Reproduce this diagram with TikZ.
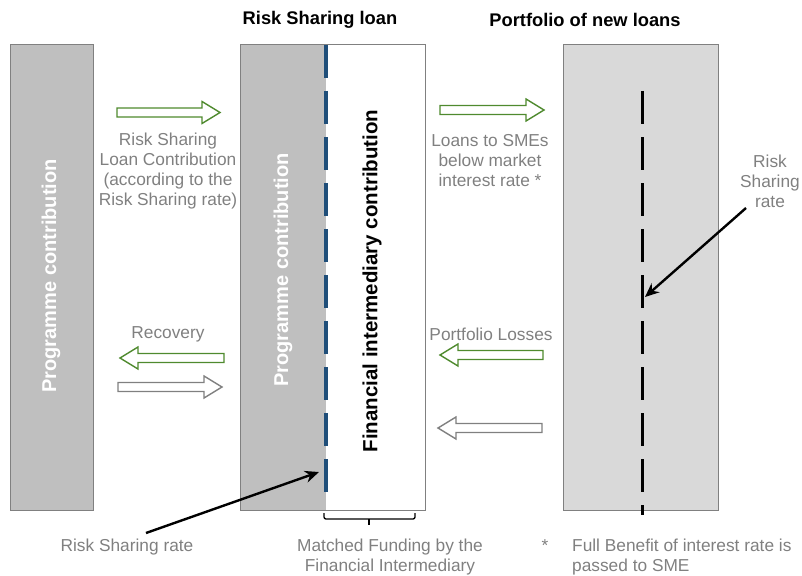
\documentclass[tikz,border=0pt]{standalone}
\usepackage{fontspec}
\setmainfont{Liberation Sans}
\usetikzlibrary{arrows.meta}
\definecolor{boxgray}{HTML}{BFBFBF}
\definecolor{lightbox}{HTML}{D9D9D9}
\definecolor{edgegray}{HTML}{808080}
\definecolor{txtgray}{HTML}{808080}
\definecolor{arrgreen}{HTML}{4F8A2E}
\definecolor{dashblue}{HTML}{1F4E79}
\newcommand\blockright[4]{% x1 x2 y color
  \draw[#4,line width=1.4pt,fill=white,line join=miter]
    (#1,#3-4.5) -- (#2-18,#3-4.5) -- (#2-18,#3-11) -- (#2,#3) -- (#2-18,#3+11) -- (#2-18,#3+4.5) -- (#1,#3+4.5) -- cycle;}
\newcommand\blockleft[4]{% x1(tip) x2 y color
  \draw[#4,line width=1.4pt,fill=white,line join=miter]
    (#2,#3-4.5) -- (#1+18,#3-4.5) -- (#1+18,#3-11) -- (#1,#3) -- (#1+18,#3+11) -- (#1+18,#3+4.5) -- (#2,#3+4.5) -- cycle;}
\begin{document}
\begin{tikzpicture}[x=1pt,y=-1pt,
  lbl/.style={text=txtgray,font=\fontsize{17.3}{20}\selectfont,align=center,inner sep=0},
  ttl/.style={font=\fontsize{18.3}{21}\selectfont\bfseries,inner sep=0},
  vtxt/.style={rotate=90,font=\fontsize{20}{22}\selectfont\bfseries,inner sep=0},
  pointer/.style={-{Stealth[length=14pt,width=12pt]},line width=2.4pt,black},
  boxline/.style={draw=edgegray,line width=1pt}]
\useasboundingbox (0,0) rectangle (802,575);
% titles
\node[ttl] (t1) at (320,20) {Risk Sharing loan};
\node[ttl] (t2) at (585,20) {Portfolio of new loans};
% left box
\node[boxline,fill=boxgray,minimum width=83,minimum height=465,inner sep=0] (lbox) at (51.5,277.5) {};
\node[vtxt,text=white] (ltxt) at (51,276) {Programme contribution};
% middle box
\fill[boxgray] (240,45) rectangle (326,510);
\node[boxline,minimum width=185,minimum height=465,inner sep=0] (mbox) at (332.5,277.5) {};
\draw[dashblue,line width=3.5pt,dash pattern=on 33pt off 13pt] (326,45) -- (326,497);
\node[vtxt,text=white] (mtxt) at (283,270) {Programme contribution};
\node[vtxt,text=black,font=\fontsize{20.5}{22}\selectfont\bfseries] (ftxt) at (372,281) {Financial intermediary contribution};
% right box
\node[boxline,fill=lightbox,minimum width=155,minimum height=465,inner sep=0] (rbox) at (640.5,277.5) {};
\draw[black,line width=3pt,dash pattern=on 33pt off 13pt] (642,91) -- (642,515);
\coordinate (rsr1) at (645,297);
% block arrows
\blockright{117}{220}{112.5}{arrgreen}
\blockright{440}{544}{110}{arrgreen}
\blockleft{120}{224}{358}{arrgreen}
\blockright{118}{222}{387}{edgegray}
\blockleft{440}{543}{355}{arrgreen}
\blockleft{438}{542}{428}{edgegray}
% labels
\node[lbl] (l1) at (168,171) {Risk Sharing\\Loan Contribution\\(according to the\\Risk Sharing rate)};
\node[lbl] (l2) at (490,161) {Loans to SMEs\\below market\\interest rate *};
\node[lbl] (l3) at (770,181) {Risk\\Sharing\\rate};
\node[lbl] (l4) at (168,334) {Recovery};
\node[lbl] (l5) at (491,334) {Portfolio Losses};
\node[lbl] (l6) at (127,547) {Risk Sharing rate};
\node[lbl] (l7) at (390,557) {Matched Funding by the\\Financial Intermediary};
\node[lbl] (l8) at (545,546) {*};
\node[lbl,align=left,anchor=west] (l9) at (572,557) {Full Benefit of interest rate is\\passed to SME};
% pointers
\coordinate (p1s) at (746,208);
\draw[pointer] (p1s) -- (rsr1);
\coordinate (p2s) at (146,533);
\coordinate (p2e) at (319,472);
\draw[pointer] (p2s) -- (p2e);
% brace
\coordinate (b1) at (324,513);
\coordinate (b2) at (415,513);
\coordinate (bm) at (369,525);
\draw[line width=1.3pt,rounded corners=2pt] (b1) -- (324,519) -- (369,519) -- (415,519) -- (b2);
\draw[line width=1.3pt] (369,519) -- (bm);
\end{tikzpicture}
\end{document}
